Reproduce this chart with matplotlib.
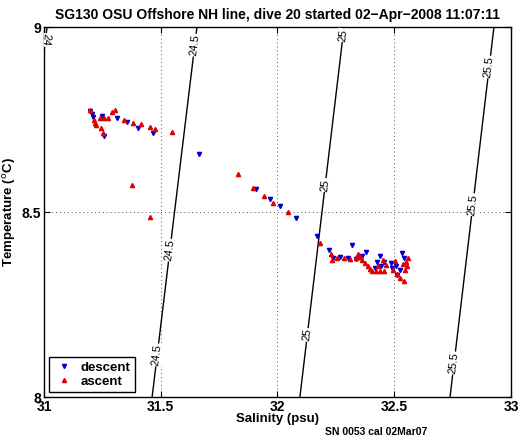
import numpy as np
import matplotlib
matplotlib.use('Agg')
import matplotlib.pyplot as plt

plt.rcParams['font.family'] = ['Liberation Sans', 'DejaVu Sans']

# descent (blue) points
desc_s = [31.197, 31.206, 31.210, 31.257, 31.248, 31.313, 31.355, 31.403, 31.467, 31.664,
          31.908, 31.968, 32.011, 32.079, 32.169,
          32.221, 32.238, 32.319, 32.268, 32.302, 32.336, 32.362, 32.439, 32.426, 32.456,
          32.443, 32.418, 32.507, 32.512, 32.525, 32.533, 32.542, 32.490, 32.486, 32.379]
desc_t = [8.773, 8.765, 8.757, 8.705, 8.759, 8.754, 8.743, 8.727, 8.714, 8.657,
          8.562, 8.535, 8.516, 8.484, 8.435,
          8.397, 8.376, 8.411, 8.378, 8.376, 8.373, 8.381, 8.381, 8.365, 8.365,
          8.354, 8.349, 8.354, 8.330, 8.343, 8.389, 8.376, 8.349, 8.362, 8.392]

# ascent (red) points
asc_s = [31.197, 31.214, 31.218, 31.223, 31.244, 31.253, 31.240, 31.257, 31.274, 31.291,
         31.304, 31.343, 31.381, 31.415, 31.454, 31.475, 31.548, 31.377, 31.454, 31.831,
         31.895, 31.942, 31.981, 32.045, 32.182,
         32.229, 32.233, 32.255, 32.285, 32.310, 32.336, 32.345, 32.353, 32.362, 32.375,
         32.388, 32.396, 32.405, 32.422, 32.439, 32.456, 32.430, 32.452, 32.465, 32.495,
         32.512, 32.525, 32.542, 32.550, 32.555, 32.546, 32.559, 32.537, 32.503]
asc_t = [8.776, 8.749, 8.741, 8.735, 8.727, 8.714, 8.754, 8.754, 8.754, 8.770,
         8.776, 8.749, 8.741, 8.738, 8.730, 8.724, 8.716, 8.573, 8.486, 8.603,
         8.565, 8.543, 8.524, 8.500, 8.416,
         8.386, 8.370, 8.376, 8.376, 8.373, 8.376, 8.386, 8.378, 8.370, 8.362,
         8.354, 8.346, 8.341, 8.341, 8.341, 8.341, 8.354, 8.370, 8.357, 8.343,
         8.332, 8.322, 8.314, 8.365, 8.354, 8.343, 8.376, 8.359, 8.368]

# isopycnals: salinity where each crosses T=9 and T=8
sigma_levels = [24, 24.5, 25, 25.5]
s_at_9 = [31.013, 31.655, 32.285, 32.927]
s_at_8 = [30.823, 31.463, 32.096, 32.739]
# temperatures where the contour labels sit
label_t = [[8.965], [8.951, 8.397, 8.114], [8.978, 8.573, 8.168], [8.892, 8.52, 8.092]]

fig = plt.figure(figsize=(5.22, 4.42), dpi=100)
ax = fig.add_axes([0.0843, 0.1018, 0.8946, 0.837])
ax.set_xlim(31, 33)
ax.set_ylim(8, 9)

for lev, s9, s8, tl in zip(sigma_levels, s_at_9, s_at_8, label_t):
    ax.plot([s8, s9], [8, 9], color='k', lw=1.0, zorder=2)
    p0 = ax.transData.transform((s8, 8))
    p1 = ax.transData.transform((s9, 9))
    ang = np.degrees(np.arctan2(p1[1] - p0[1], p1[0] - p0[0]))
    if lev == 24:
        ang = ang + 180
    txt = '%g' % lev
    for t in tl:
        s = np.interp(t, [8, 9], [s8, s9])
        ax.text(s, t, txt, rotation=ang, ha='center', va='center', fontsize=8,
                rotation_mode='anchor', zorder=3, clip_on=True,
                bbox=dict(facecolor='white', edgecolor='none', pad=0.5))

ax.plot(desc_s, desc_t, 'v', color='#0000cc', ms=3, mec='#0000cc', ls='none',
        label='descent', zorder=4)
ax.plot(asc_s, asc_t, '^', color='#e00000', ms=3, mec='#e00000', ls='none',
        label='ascent', zorder=4)

ax.set_xticks([31, 31.5, 32, 32.5, 33])
ax.set_xticklabels(['31', '31.5', '32', '32.5', '33'])
ax.set_yticks([8, 8.5, 9])
ax.set_yticklabels(['8', '8.5', '9'])
ax.grid(True, color='#555555', linestyle=(0, (1, 3)), lw=0.7)
ax.tick_params(direction='in', top=True, right=True, length=4, labelsize=10, pad=2)
for lbl in ax.get_xticklabels() + ax.get_yticklabels():
    lbl.set_fontweight('bold')
for sp in ax.spines.values():
    sp.set_linewidth(1.0)

ax.set_xlabel('Salinity (psu)', fontsize=9.5, fontweight='bold')
ax.xaxis.set_label_coords(0.5, -0.042)
ax.set_ylabel('Temperature ($^{\\mathrm{o}}$C)', fontsize=9.5, fontweight='bold')
ax.yaxis.set_label_coords(-0.056, 0.5)
ax.set_title('SG130 OSU Offshore NH line, dive 20 started 02\u2212Apr\u22122008 11:07:11',
             fontsize=10, fontweight='bold', pad=6)

leg = ax.legend(loc='lower left', prop={'weight': 'bold', 'size': 9.5}, fancybox=False,
                edgecolor='k', framealpha=1, handletextpad=0.5, borderpad=0.3,
                labelspacing=0.15, markerscale=1.0, handlelength=1.6,
                borderaxespad=0.4)
leg.get_frame().set_linewidth(1.0)

fig.text(0.623, 0.023, 'SN 0053 cal 02Mar07', fontsize=7.5, fontweight='bold', va='center')

fig.savefig('out.png', dpi=100)
